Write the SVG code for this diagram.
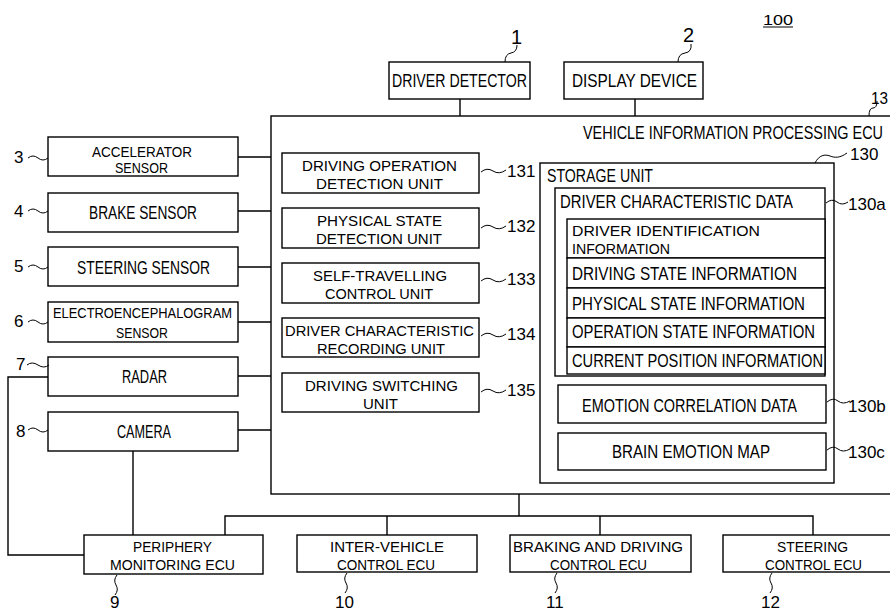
<svg xmlns="http://www.w3.org/2000/svg" width="890" height="612" viewBox="0 0 890 612">
<style>
rect{fill:#fff;stroke:#000;stroke-width:1.4}
.c{fill:none;stroke:#000;stroke-width:1.4}
.l{fill:none;stroke:#000;stroke-width:1}
text{font-family:"Liberation Sans",Arial,sans-serif;fill:#000}
.t{font-size:17.5px}
.d{font-size:15.5px}
.b{font-size:19px}
.n{font-size:17px}
</style>
<rect x="0" y="0" width="890" height="612" style="fill:#fff;stroke:none"/>
<g id="connectors">
<path class="c" d="M460,99V116M635,99V116"/>
<path class="c" d="M238,157H271M238,211H271M238,267H271M238,322H271M238,376H271M238,430H271"/>
<path class="c" d="M48,377H8V555H84"/>
<path class="c" d="M133,451V535"/>
<path class="c" d="M519,494V516"/>
<path class="c" d="M225,535V516H813V535M387,516V535M600,516V535"/>
</g>
<g id="label-100">
<text class="n" x="763" y="25" textLength="30" lengthAdjust="spacingAndGlyphs" style="font-size:14px">100</text>
<path class="l" d="M763,27H793"/>
</g>
<g id="ecu">
<rect x="271" y="116" width="640" height="378"/>
<text class="b" x="583" y="139" textLength="300" lengthAdjust="spacingAndGlyphs">VEHICLE INFORMATION PROCESSING ECU</text>
<text class="n" x="871" y="104" textLength="17" lengthAdjust="spacingAndGlyphs">13</text>
<path class="l" d="M869,116q0,-8 4,-8t4,-7"/>
</g>
<g id="driver-detector">
<rect x="389" y="62" width="141" height="37"/>
<text class="b" x="392" y="87" textLength="135" lengthAdjust="spacingAndGlyphs">DRIVER DETECTOR</text>
<text class="n" x="511" y="44" style="font-size:20px">1</text>
<path class="l" d="M505,62q0,-8 6,-9t6,-8"/>
</g>
<g id="display-device">
<rect x="564" y="62" width="139" height="37"/>
<text class="b" x="572" y="87" textLength="125" lengthAdjust="spacingAndGlyphs">DISPLAY DEVICE</text>
<text class="n" x="683" y="42" style="font-size:20px">2</text>
<path class="l" d="M678,62q0,-8 7,-9t6,-9"/>
</g>
<g id="accelerator-sensor">
<rect x="48" y="137" width="190" height="39"/>
<text class="d" x="92" y="157" textLength="100" lengthAdjust="spacingAndGlyphs">ACCELERATOR</text>
<text class="d" x="115" y="173" textLength="53" lengthAdjust="spacingAndGlyphs">SENSOR</text>
<text class="n" x="14" y="163">3</text>
<path class="l" d="M28,158q5,-4 10,0t10,0"/>
</g>
<g id="brake-sensor">
<rect x="48" y="193" width="190" height="39"/>
<text class="t" x="89" y="219" textLength="108" lengthAdjust="spacingAndGlyphs">BRAKE SENSOR</text>
<text class="n" x="14" y="217">4</text>
<path class="l" d="M28,211q5,-4 10,0t10,0"/>
</g>
<g id="steering-sensor">
<rect x="48" y="247" width="190" height="39"/>
<text class="t" x="77" y="274" textLength="133" lengthAdjust="spacingAndGlyphs">STEERING SENSOR</text>
<text class="n" x="14" y="272">5</text>
<path class="l" d="M28,267q5,-4 10,0t10,0"/>
</g>
<g id="eeg-sensor">
<rect x="48" y="302" width="190" height="40"/>
<text class="d" x="53" y="318" textLength="179" lengthAdjust="spacingAndGlyphs">ELECTROENCEPHALOGRAM</text>
<text class="d" x="116" y="338" textLength="52" lengthAdjust="spacingAndGlyphs">SENSOR</text>
<text class="n" x="14" y="327">6</text>
<path class="l" d="M28,322q5,-4 10,0t10,0"/>
</g>
<g id="radar">
<rect x="48" y="357" width="190" height="39"/>
<text class="t" x="122" y="383" textLength="45" lengthAdjust="spacingAndGlyphs">RADAR</text>
<text class="n" x="16" y="370">7</text>
<path class="l" d="M27,365q5,-4 11,0t11,0"/>
</g>
<g id="camera">
<rect x="48" y="412" width="190" height="39"/>
<text class="t" x="117" y="438" textLength="54" lengthAdjust="spacingAndGlyphs">CAMERA</text>
<text class="n" x="16" y="437">8</text>
<path class="l" d="M28,430q5,-4 10,0t10,0"/>
</g>
<g id="periphery-monitoring-ecu">
<rect x="84" y="535" width="179" height="39"/>
<text class="d" x="133" y="552" textLength="79" lengthAdjust="spacingAndGlyphs">PERIPHERY</text>
<text class="d" x="110" y="570" textLength="125" lengthAdjust="spacingAndGlyphs">MONITORING ECU</text>
<text class="n" x="110" y="608">9</text>
<path class="l" d="M117,575q-4,5 -1,10t-1,10"/>
</g>
<g id="inter-vehicle-control-ecu">
<rect x="297" y="535" width="180" height="37"/>
<text class="d" x="330" y="552" textLength="114" lengthAdjust="spacingAndGlyphs">INTER-VEHICLE</text>
<text class="d" x="337" y="570" textLength="98" lengthAdjust="spacingAndGlyphs">CONTROL ECU</text>
<text class="n" x="335" y="608">10</text>
<path class="l" d="M347,573q-4,5 -1,10t-1,10"/>
</g>
<g id="braking-driving-control-ecu">
<rect x="510" y="535" width="181" height="37"/>
<text class="d" x="513" y="552" textLength="170" lengthAdjust="spacingAndGlyphs">BRAKING AND DRIVING</text>
<text class="d" x="550" y="570" textLength="97" lengthAdjust="spacingAndGlyphs">CONTROL ECU</text>
<text class="n" x="546" y="608">11</text>
<path class="l" d="M557,573q-4,5 -1,10t-1,10"/>
</g>
<g id="steering-control-ecu">
<rect x="723" y="535" width="180" height="37"/>
<text class="d" x="777" y="552" textLength="71" lengthAdjust="spacingAndGlyphs">STEERING</text>
<text class="d" x="765" y="570" textLength="97" lengthAdjust="spacingAndGlyphs">CONTROL ECU</text>
<text class="n" x="761" y="608">12</text>
<path class="l" d="M772,573q-4,5 -1,10t-1,10"/>
</g>
<g id="unit-131">
<rect x="282" y="153" width="197" height="40"/>
<text class="d" x="302" y="171" textLength="155" lengthAdjust="spacingAndGlyphs">DRIVING OPERATION</text>
<text class="d" x="316" y="189" textLength="127" lengthAdjust="spacingAndGlyphs">DETECTION UNIT</text>
<text class="n" x="507" y="177">131</text>
<path class="l" d="M481,172q6,-5 12,-1t13,-1"/>
</g>
<g id="unit-132">
<rect x="282" y="208" width="197" height="40"/>
<text class="d" x="317" y="226" textLength="125" lengthAdjust="spacingAndGlyphs">PHYSICAL STATE</text>
<text class="d" x="316" y="244" textLength="126" lengthAdjust="spacingAndGlyphs">DETECTION UNIT</text>
<text class="n" x="507" y="232">132</text>
<path class="l" d="M481,228q6,-5 12,-1t13,-1"/>
</g>
<g id="unit-133">
<rect x="282" y="263" width="197" height="40"/>
<text class="d" x="313" y="281" textLength="134" lengthAdjust="spacingAndGlyphs">SELF-TRAVELLING</text>
<text class="d" x="325" y="299" textLength="108" lengthAdjust="spacingAndGlyphs">CONTROL UNIT</text>
<text class="n" x="507" y="285">133</text>
<path class="l" d="M481,281q6,-5 12,-1t13,-1"/>
</g>
<g id="unit-134">
<rect x="282" y="318" width="197" height="39"/>
<text class="d" x="285" y="336" textLength="189" lengthAdjust="spacingAndGlyphs">DRIVER CHARACTERISTIC</text>
<text class="d" x="317" y="354" textLength="128" lengthAdjust="spacingAndGlyphs">RECORDING UNIT</text>
<text class="n" x="507" y="340">134</text>
<path class="l" d="M481,336q6,-5 12,-1t13,-1"/>
</g>
<g id="unit-135">
<rect x="282" y="373" width="197" height="39"/>
<text class="d" x="305" y="391" textLength="153" lengthAdjust="spacingAndGlyphs">DRIVING SWITCHING</text>
<text class="d" x="363" y="409" textLength="35" lengthAdjust="spacingAndGlyphs">UNIT</text>
<text class="n" x="507" y="396">135</text>
<path class="l" d="M481,392q6,-5 12,-1t13,-1"/>
</g>
<g id="storage-unit">
<rect x="540" y="163" width="294" height="320"/>
<text class="t" x="547" y="182" textLength="106" lengthAdjust="spacingAndGlyphs">STORAGE UNIT</text>
<text class="n" x="850" y="160">130</text>
<path class="l" d="M815,163c4,-8 10,-9 15,-7s10,2 17,-3"/>
</g>
<g id="driver-characteristic-data">
<rect x="555" y="188" width="270" height="188"/>
<text class="t" x="560" y="208" textLength="233" lengthAdjust="spacingAndGlyphs">DRIVER CHARACTERISTIC DATA</text>
<text class="n" x="848" y="210">130a</text>
<path class="l" d="M826,203q6,-5 11,-1t11,0"/>
</g>
<g id="driver-identification-information">
<rect x="567" y="219" width="258" height="39"/>
<text class="d" x="572" y="236" textLength="188" lengthAdjust="spacingAndGlyphs">DRIVER IDENTIFICATION</text>
<text class="d" x="572" y="254" textLength="98" lengthAdjust="spacingAndGlyphs">INFORMATION</text>
</g>
<g id="driving-state-information">
<rect x="567" y="258" width="258" height="30"/>
<text class="t" x="572" y="280" textLength="225" lengthAdjust="spacingAndGlyphs">DRIVING STATE INFORMATION</text>
</g>
<g id="physical-state-information">
<rect x="567" y="288" width="258" height="30"/>
<text class="t" x="572" y="310" textLength="233" lengthAdjust="spacingAndGlyphs">PHYSICAL STATE INFORMATION</text>
</g>
<g id="operation-state-information">
<rect x="567" y="318" width="258" height="29"/>
<text class="t" x="572" y="338" textLength="243" lengthAdjust="spacingAndGlyphs">OPERATION STATE INFORMATION</text>
</g>
<g id="current-position-information">
<rect x="567" y="347" width="258" height="27"/>
<text class="t" x="572" y="367" textLength="251" lengthAdjust="spacingAndGlyphs">CURRENT POSITION INFORMATION</text>
</g>
<g id="emotion-correlation-data">
<rect x="558" y="385" width="268" height="38"/>
<text class="t" x="582" y="412" textLength="215" lengthAdjust="spacingAndGlyphs">EMOTION CORRELATION DATA</text>
<text class="n" x="848" y="412">130b</text>
<path class="l" d="M827,402q6,-5 11,-1t12,0"/>
</g>
<g id="brain-emotion-map">
<rect x="558" y="433" width="268" height="37"/>
<text class="t" x="612" y="458" textLength="158" lengthAdjust="spacingAndGlyphs">BRAIN EMOTION MAP</text>
<text class="n" x="848" y="458">130c</text>
<path class="l" d="M827,450q6,-5 11,-1t12,0"/>
</g>
</svg>
